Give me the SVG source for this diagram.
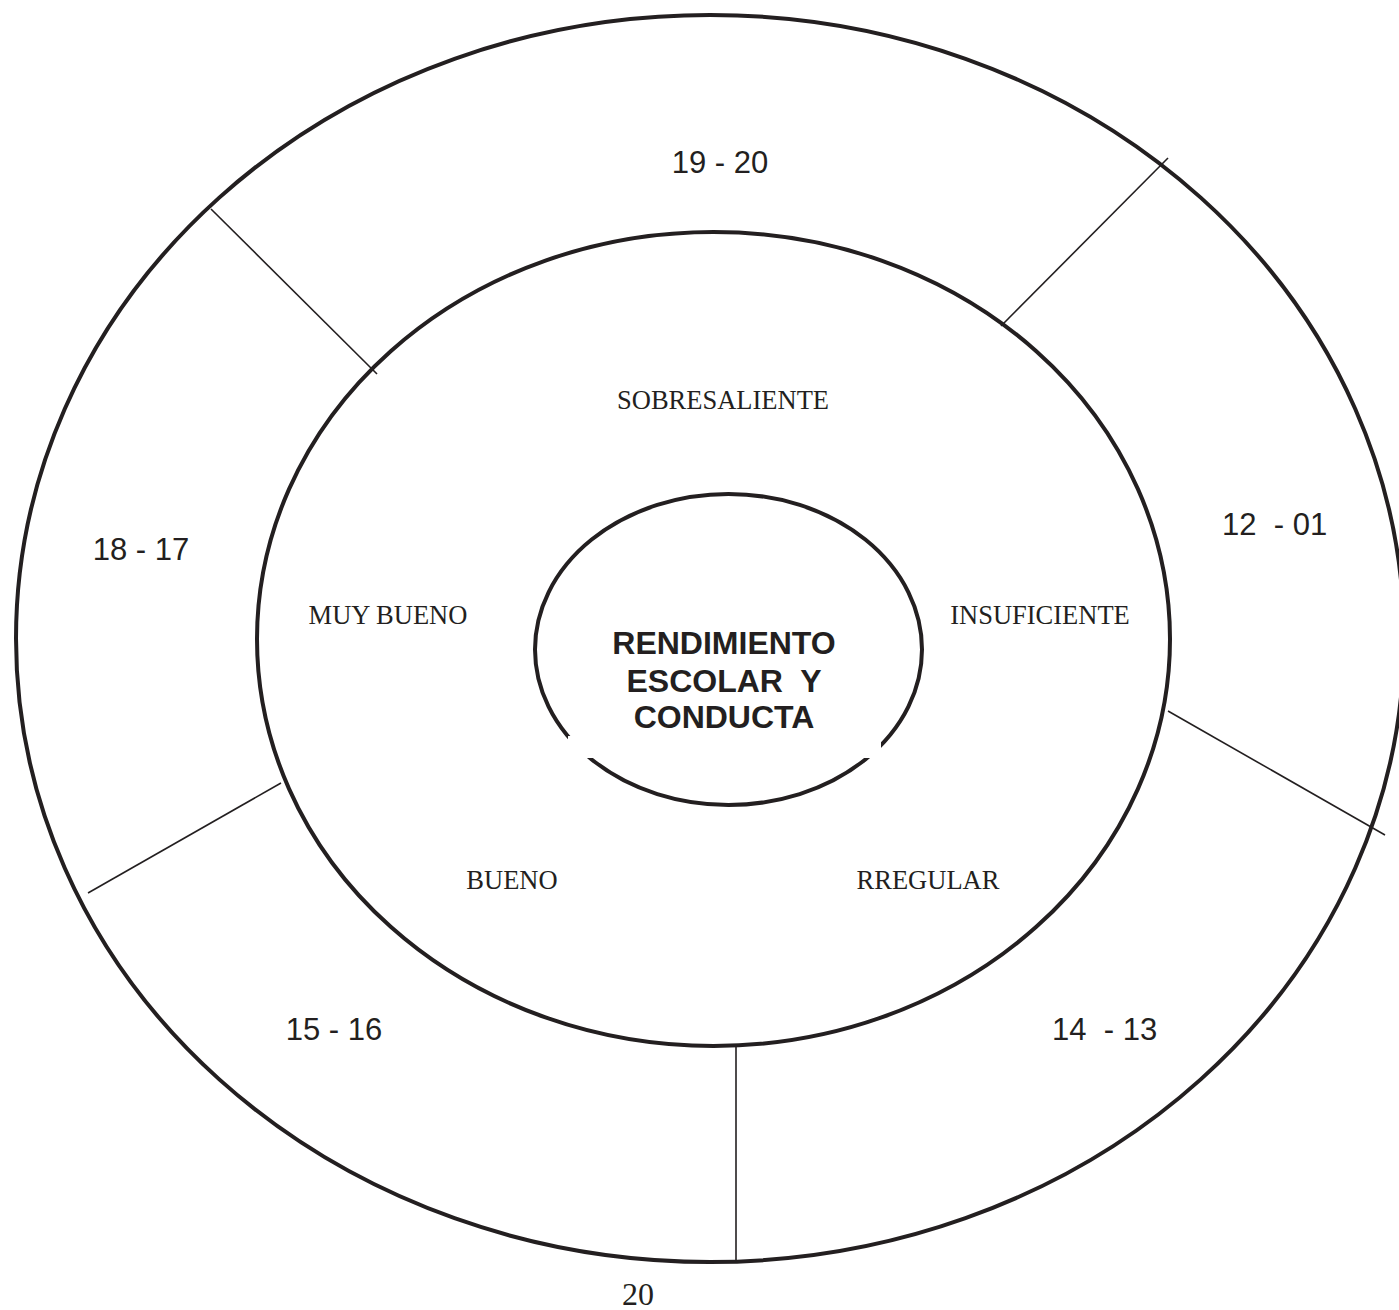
<svg xmlns="http://www.w3.org/2000/svg" width="1399" height="1310" viewBox="0 0 1399 1310">
<style>
.ring{fill:none;stroke:#231f20;stroke-width:4}
.div{stroke:#231f20;stroke-width:1.6;fill:none}
.num{font-family:"Liberation Sans",Arial,sans-serif;font-size:31px;fill:#231f20}
.lbl{font-family:"Liberation Serif","Times New Roman",serif;font-size:26.5px;fill:#231f20;text-anchor:middle}
.ctr{font-family:"Liberation Sans",Arial,sans-serif;font-size:32px;font-weight:bold;fill:#231f20;text-anchor:middle}
</style>
<rect width="1399" height="1310" fill="#fff"/>
<g id="outer">
<ellipse class="ring" cx="710" cy="638.5" rx="694" ry="623.5"/>
</g>
<g id="middle">
<ellipse class="ring" cx="713.5" cy="639" rx="456.5" ry="407"/>
</g>
<g id="center">
<ellipse class="ring" cx="728.5" cy="649.5" rx="193.5" ry="155.5"/>
<rect x="568" y="736" width="313" height="22" fill="#fff"/>
<text class="ctr" x="724" y="654">RENDIMIENTO</text>
<text class="ctr" x="724" y="692" xml:space="preserve">ESCOLAR  Y</text>
<text class="ctr" x="724" y="728">CONDUCTA</text>
</g>
<g id="connectors">
<line class="div" x1="1001" y1="326" x2="1168" y2="158"/>
<line class="div" x1="211" y1="209" x2="377" y2="374"/>
<line class="div" x1="1168" y1="711" x2="1385" y2="835"/>
<line class="div" x1="88" y1="893" x2="281" y2="783"/>
<line class="div" x1="736" y1="1047" x2="736" y2="1260"/>
</g>
<g id="seg-sobresaliente">
<text class="num" x="720" y="173" text-anchor="middle">19 - 20</text>
<text class="lbl" x="723" y="409">SOBRESALIENTE</text>
</g>
<g id="seg-muybueno">
<text class="num" x="141" y="560" text-anchor="middle">18 - 17</text>
<text class="lbl" x="388" y="624">MUY BUENO</text>
</g>
<g id="seg-insuficiente">
<text class="num" x="1222" y="535" xml:space="preserve">12  - 01</text>
<text class="lbl" x="1040" y="624">INSUFICIENTE</text>
</g>
<g id="seg-bueno">
<text class="num" x="334" y="1040" text-anchor="middle">15 - 16</text>
<text class="lbl" x="512" y="889">BUENO</text>
</g>
<g id="seg-regular">
<text class="num" x="1052" y="1040" xml:space="preserve">14  - 13</text>
<text class="lbl" x="928" y="889">RREGULAR</text>
</g>
<g id="page">
<text x="622" y="1305" font-family="'Liberation Serif','Times New Roman',serif" font-size="32" fill="#231f20">20</text>
</g>
</svg>
